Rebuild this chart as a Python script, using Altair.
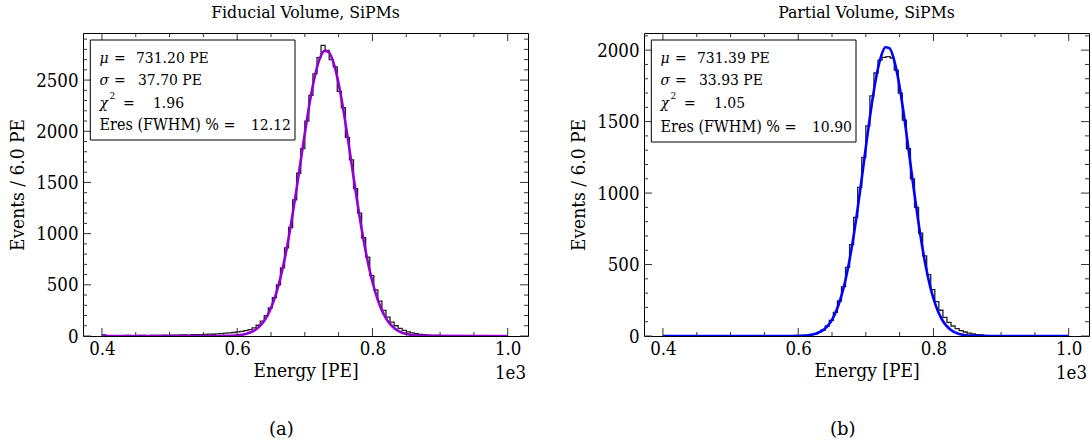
import altair as alt
import pandas as pd

FONT = "DejaVu Serif Condensed, DejaVu Serif"
TFONT = "DejaVu Serif"

# ---------------- data ----------------
BIN_START = 400
BIN_WIDTH = 6

left_counts = [10,
    3, 4, 3, 2, 4, 5, 3, 4, 5, 6, 4, 5, 7, 6, 8, 7, 9, 8, 10, 11, 9, 12,
    12, 14, 15, 18, 17, 20, 24, 28, 30, 34,
    40, 45, 52, 62, 80, 105, 145, 200, 275, 375,
    500, 665, 860, 1060, 1330, 1590, 1830, 2100, 2350, 2560,
    2720, 2840, 2790, 2700, 2630, 2390, 2230, 1940, 1720, 1440,
    1200, 960, 770, 590, 450, 340, 250, 185, 135, 100,
    75, 55, 40, 30, 22, 16, 12, 9, 7, 5,
    4, 3, 4, 2, 3, 2, 1, 2, 1, 0, 1, 1, 0, 0, 1, 0, 0]

right_counts = [0, 1, 0, 0, 1, 0, 0, 0, 1, 0, 0, 1, 0, 0, 0, 1, 0, 0, 1, 0,
    0, 1, 1, 0, 1, 0, 1, 2, 1, 1, 2, 1, 2,
    2, 3, 5, 8, 14, 25, 42, 70, 110, 165,
    245, 345, 480, 640, 830, 1040, 1250, 1470, 1680, 1840,
    1930, 1950, 1955, 1945, 1860, 1700, 1510, 1310, 1100, 900,
    720, 560, 430, 325, 240, 180, 130, 95, 70, 52,
    38, 28, 20, 14, 10, 7, 5, 3, 2, 2,
    1, 1, 0, 1, 0, 0, 1, 0, 0, 0, 0, 1, 0, 0, 0, 0, 0]

FIT_X = [400] + list(range(561, 880, 6)) + [1000]

left_fit = [0,
    0.1, 0.2, 0.4, 0.8, 1.5, 2.8, 4.9,
    8.6, 14.6, 24, 39, 61, 94, 140, 204, 290, 402,
    543, 715, 918, 1150, 1403, 1670, 1937, 2192, 2417, 2599,
    2725, 2785, 2776, 2697, 2556, 2360, 2126, 1867, 1598, 1334,
    1085, 862, 667, 503, 370, 265, 185, 126, 84, 54,
    34, 21, 13, 7,
    4.2, 2.4, 1.3,
    0]

right_fit = [0,
    0, 0, 0, 0.1, 0.2, 0.4, 0.8,
    1.6, 3.0, 5.6, 10.2, 17.8, 30.2, 49.7, 79.2, 122, 183,
    266, 373, 509, 672, 861, 1068, 1284, 1496, 1690, 1851,
    1964, 2020, 2014, 1945, 1822, 1653, 1454, 1240, 1024, 821,
    637, 479, 349, 247, 169, 112, 72, 45, 27, 16,
    9, 5, 2.7, 1.4,
    0.7, 0.3, 0.2,
    0]

X_LABELS = [400, 600, 800, 1000]
X_MINOR = [450, 500, 550, 650, 700, 750, 850, 900, 950]

left_y_major = [0, 500, 1000, 1500, 2000, 2500]
left_y_minor = [v for v in range(100, 3000, 100) if v % 500 != 0]
right_y_major = [0, 500, 1000, 1500, 2000]
right_y_minor = [v for v in range(100, 2200, 100) if v % 500 != 0]

left_stats = ["731.20 PE", "37.70 PE", "1.96", "12.12"]
right_stats = ["731.39 PE", "33.93 PE", "1.05", "10.90"]

W = 445
H = 303
X_DOMAIN = [372, 1030]
TICK_FS = 18.5


def txt(s, x, y, size=15.5, italic=False, align="left", font=FONT, baseline="middle"):
    return alt.Chart(pd.DataFrame({"t": [s]})).mark_text(
        align=align, baseline=baseline, font=font, fontSize=size,
        fontStyle="italic" if italic else "normal", color="black"
    ).encode(text="t:N", x=alt.value(x), y=alt.value(y))


def panel(counts, fit, color, ymax, ymaj, ymin, title, stats, caption, box_bottom, line_y):
    edges = [BIN_START + BIN_WIDTH * i for i in range(len(counts) + 1)]
    hist_df = pd.DataFrame({"E": edges, "N": counts + [counts[-1]]})
    fit_df = pd.DataFrame({"E": FIT_X, "N": fit})
    xs = alt.Scale(domain=X_DOMAIN, nice=False, zero=False)
    ys = alt.Scale(domain=[0, ymax], nice=False, zero=False)

    xaxis = alt.Axis(values=X_LABELS, labelExpr="format(datum.value/1000, '.1f')",
                     ticks=False, domain=False, grid=False,
                     labelFont=FONT, labelFontSize=TICK_FS, labelColor="black", labelPadding=3,
                     title="Energy [PE]", titleFont=FONT, titleFontSize=19,
                     titleFontWeight="normal", titleColor="black", titlePadding=4)
    yaxis = alt.Axis(values=ymaj, format="d", ticks=False, domain=False, grid=False,
                     labelFont=FONT, labelFontSize=TICK_FS, labelColor="black", labelPadding=5,
                     title="Events / 6.0 PE", titleFont=FONT, titleFontSize=19,
                     titleFontWeight="normal", titleColor="black", titlePadding=8)

    hist = alt.Chart(hist_df).mark_line(
        interpolate="step-after", color="#222222", strokeWidth=1.3, clip=True
    ).encode(x=alt.X("E:Q", scale=xs, axis=xaxis), y=alt.Y("N:Q", scale=ys, axis=yaxis))

    fitl = alt.Chart(fit_df).mark_line(
        interpolate="monotone", color=color, strokeWidth=2.6, clip=True
    ).encode(x=alt.X("E:Q", scale=xs, axis=xaxis), y=alt.Y("N:Q", scale=ys, axis=yaxis))

    tick_color = "#333333"
    layers = [hist, fitl]
    for vals, ln in [(X_LABELS, 8), (X_MINOR, 4)]:
        df = pd.DataFrame({"E": vals})
        layers.append(alt.Chart(df).mark_rule(color=tick_color, strokeWidth=1).encode(
            x=alt.X("E:Q", scale=xs, axis=xaxis), y=alt.value(H), y2=alt.value(H - ln)))
        layers.append(alt.Chart(df).mark_rule(color=tick_color, strokeWidth=1).encode(
            x=alt.X("E:Q", scale=xs, axis=xaxis), y=alt.value(0), y2=alt.value(ln)))
    for vals, ln in [(ymaj, 8), (ymin, 4)]:
        df = pd.DataFrame({"N": vals})
        layers.append(alt.Chart(df).mark_rule(color=tick_color, strokeWidth=1).encode(
            y=alt.Y("N:Q", scale=ys, axis=yaxis), x=alt.value(0), x2=alt.value(ln)))
        layers.append(alt.Chart(df).mark_rule(color=tick_color, strokeWidth=1).encode(
            y=alt.Y("N:Q", scale=ys, axis=yaxis), x=alt.value(W), x2=alt.value(W - ln)))

    box = alt.Chart(pd.DataFrame({"a": [0]})).mark_rect(
        fill="white", stroke="black", strokeWidth=1
    ).encode(x=alt.value(7.3), x2=alt.value(212), y=alt.value(7), y2=alt.value(box_bottom))
    layers.append(box)

    y1, y2, y3, y4 = line_y
    layers += [
        txt("μ", 16.6, y1, italic=True), txt("=", 31, y1), txt(stats[0], 53, y1),
        txt("σ", 16.6, y2, italic=True), txt("=", 31, y2), txt(stats[1], 55, y2),
        txt("χ", 16.6, y3, italic=True), txt("2", 26.5, y3 - 7, size=10), txt("=", 40, y3),
        txt(stats[2], 70, y3),
        txt("Eres (FWHM) % =", 16.6, y4, size=16), txt(stats[3], 168, y4),
        txt("1e3", W - 2, H + 37, size=TICK_FS, align="right"),
        txt(caption, 186, H + 94, size=18, font=TFONT),
    ]

    return alt.layer(*layers).properties(
        width=W, height=H,
        title=alt.TitleParams(title, font=FONT, fontSize=17.5, fontWeight="normal",
                              color="black", offset=11, anchor="middle"))


left = panel(left_counts, left_fit, "#9400D3", 2960, left_y_major, left_y_minor,
             "Fiducial Volume, SiPMs", left_stats, "(a)", 107, (25, 47, 69.5, 92))
right = panel(right_counts, right_fit, "#0000FF", 2120, right_y_major, right_y_minor,
              "Partial Volume, SiPMs", right_stats, "(b)", 109, (25.3, 47, 70, 93.7))

chart = alt.hconcat(left, right, spacing=40).properties(
    padding={"left": 8, "top": 3, "right": 2, "bottom": 2}
).configure_view(stroke="black", strokeWidth=1)

chart.save("out.html", embed_options={"renderer": "svg", "actions": False})
